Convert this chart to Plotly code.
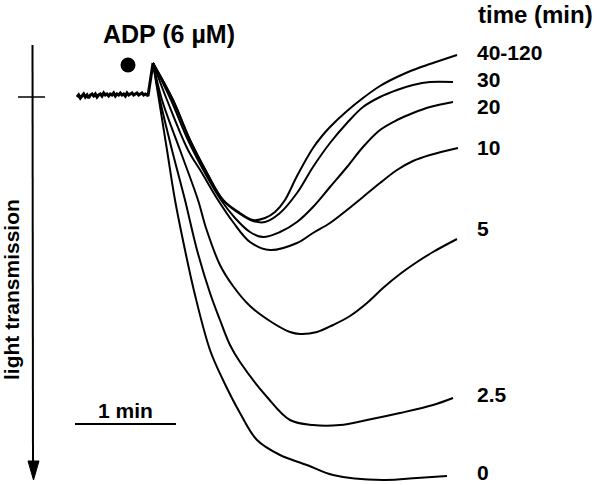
import plotly.graph_objects as go

# ---- data: time (s) after start of recording, light transmission (a.u., increasing downward) ----
baseline_t = [0, 1, 2, 3, 4, 5, 6, 7, 8, 9, 10, 11, 12, 13, 14, 15, 16, 17, 18, 19, 20, 21,
              22, 23, 24, 25, 26, 27, 28, 29, 30, 31, 32, 33, 34, 35, 36, 37, 38, 39, 40, 41, 42, 42.6, 45.6]
baseline_a = [0, -2, 1, -1, -3, 0, -2, 1, -2, -3, -1, -3, 0, -2, -3, -1, -4, -2, -3, -1, -3, -2,
              -4, -1, -3, -2, -4, -2, -3, -1, -4, -2, -3, -4, -2, -3, -4, -2, -3, -4, -2, -3, -2, -1, -34]

adp_time = [30.6]
adp_level = [-32]

t_0 = [45.6, 49.2, 54, 58.8, 64.8, 70.8, 79.8, 87.6, 97.8, 108, 121.8, 138, 153.6, 183.6, 204, 222]
a_0 = [-34, 3, 53, 103, 153, 198, 253, 283, 316, 343, 358, 368, 378, 383, 381, 379]

t_2_5 = [45.6, 49.8, 57, 64.8, 72, 79.8, 85.8, 91.8, 97.8, 114, 127.8, 141.6, 157.8, 174, 193.8, 213.6, 225.6]
a_2_5 = [-34, 3, 53, 103, 153, 196, 223, 248, 265, 300, 323, 328, 328, 323, 316, 308, 301]

t_5 = [45.6, 51, 61.8, 72.6, 77.4, 85.8, 93.6, 103.8, 117.6, 127.8, 133.8, 144, 153.6, 163.8, 174, 183.6, 193.8, 204, 213.6, 228]
a_5 = [-34, 3, 53, 103, 131, 168, 189, 209, 226, 235, 237, 235, 228, 219, 206, 191, 177, 165, 155, 142]

t_10 = [45.6, 54, 66.6, 75, 84.6, 93.6, 103.8, 115.8, 132, 141.6, 151.8, 162, 171.6, 181.8, 192, 201.6, 211.8, 228.6]
a_10 = [-34, 3, 53, 76, 103, 125, 145, 153, 146, 136, 126, 113, 100, 86, 73, 64, 58, 51]

t_20 = [45.6, 56.4, 66.6, 76.8, 86.4, 94.8, 103.8, 111.6, 121.8, 132, 141.6, 151.8, 162, 171.6, 181.8, 192, 201.6, 211.8, 225.6]
a_20 = [-34, 3, 43, 76, 103, 121, 135, 140, 135, 125, 110, 90, 70, 50, 33, 23, 16, 10, 5]

t_30 = [45.6, 57.6, 67.8, 78, 87.6, 97.8, 105.6, 112.8, 121.8, 132, 141.6, 151.8, 162, 171.6, 181.8, 192, 201.6, 211.8, 225.6]
a_30 = [-34, 3, 43, 76, 103, 117, 124, 125, 116, 96, 70, 46, 26, 10, 0, -7, -12, -15, -15]

t_40 = [45.6, 57.6, 67.8, 78, 87.6, 97.8, 105.6, 112.8, 118.8, 124.8, 132, 141.6, 147, 151.8, 162, 171.6, 181.8, 192, 201.6, 211.8, 228]
a_40 = [-34, 3, 43, 76, 103, 116, 123, 121, 115, 103, 79, 51, 39, 30, 14, 1, -11, -20, -27, -33, -42]

curve_labels = ["40-120", "30", "20", "10", "5", "2.5", "0"]

# ---- layout helpers (pixel position -> axis coordinates) ----
def X(px):
    return (px - 77) * 0.6

def Y(py):
    return py - 97

FONT = "Liberation Sans, Arial, Helvetica, sans-serif"

fig = go.Figure()

fig.add_trace(go.Scatter(x=baseline_t, y=baseline_a, mode="lines",
                         line=dict(color="black", width=3), hoverinfo="skip"))

series = [(t_40, a_40), (t_30, a_30), (t_20, a_20), (t_10, a_10), (t_5, a_5), (t_2_5, a_2_5), (t_0, a_0)]
for (tt, aa), lab in zip(series, curve_labels):
    fig.add_trace(go.Scatter(x=tt, y=aa, mode="lines", name=lab,
                             line=dict(color="black", width=2, shape="spline", smoothing=1.0)))

fig.add_trace(go.Scatter(x=adp_time, y=adp_level, mode="markers",
                         marker=dict(color="black", size=15)))

# curve labels
label_py = [52, 79, 106, 147, 228, 394, 472]
annotations = []
for lab, py in zip(curve_labels, label_py):
    annotations.append(dict(x=X(475), y=Y(py), text="<b>%s</b>" % lab, showarrow=False,
                            xanchor="left", yanchor="middle", font=dict(size=21, family=FONT, color="black")))

annotations += [
    dict(x=X(169), y=Y(34), text="<b>ADP (6 µM)</b>", showarrow=False, xanchor="center", yanchor="middle",
         font=dict(size=25, family=FONT, color="black")),
    dict(x=X(476), y=Y(14), text="<b>time (min)</b>", showarrow=False, xanchor="left", yanchor="middle",
         font=dict(size=24, family=FONT, color="black")),
    dict(x=X(125), y=Y(410), text="<b>1 min</b>", showarrow=False, xanchor="center", yanchor="middle",
         font=dict(size=21, family=FONT, color="black")),
    dict(x=X(11), y=Y(290), text="<b>light transmission</b>", showarrow=False, textangle=-90,
         xanchor="center", yanchor="middle", font=dict(size=21, family=FONT, color="black")),
]

shapes = [
    # vertical transmission axis
    dict(type="line", x0=X(32.5), x1=X(33), y0=Y(45), y1=Y(466), line=dict(color="black", width=2)),
    dict(type="path", path="M %f,%f L %f,%f L %f,%f Z" % (X(28), Y(461), X(39), Y(461), X(33.5), Y(480)),
         fillcolor="black", line=dict(color="black", width=1)),
    # baseline tick
    dict(type="line", x0=X(18), x1=X(45), y0=Y(97), y1=Y(97), line=dict(color="black", width=1.5)),
    # 1 min scale bar
    dict(type="line", x0=X(75), x1=X(176), y0=Y(424), y1=Y(424), line=dict(color="black", width=2)),
]

fig.update_layout(
    width=600, height=485,
    margin=dict(l=0, r=0, t=0, b=0),
    paper_bgcolor="white", plot_bgcolor="white",
    showlegend=False,
    xaxis=dict(range=[X(0), X(600)], visible=False, fixedrange=True),
    yaxis=dict(range=[Y(485), Y(0)], visible=False, fixedrange=True),
    annotations=annotations,
    shapes=shapes,
)

fig.write_html("out.html", config={"displayModeBar": False},
               post_script="document.body.style.margin='0';document.body.style.overflow='hidden';")
